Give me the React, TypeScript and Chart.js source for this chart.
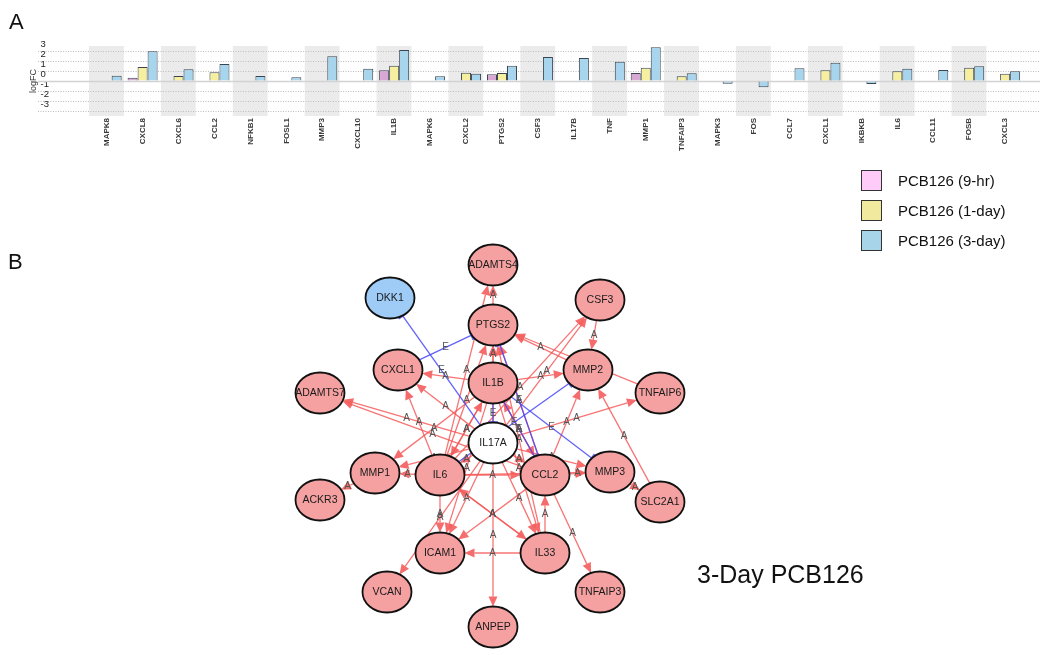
import React, { useEffect, useRef } from 'react';
import { Chart, registerables } from 'chart.js';

Chart.register(...registerables);
Chart.defaults.font.family = '"Liberation Sans", Arial, sans-serif';

// ---------- Panel A data ----------
const categories = ['MAPK8', 'CXCL8', 'CXCL6', 'CCL2', 'NFKB1', 'FOSL1', 'MMP3', 'CXCL10', 'IL1B', 'MAPK6', 'CXCL2', 'PTGS2', 'CSF3', 'IL17B', 'TNF', 'MMP1', 'TNFAIP3', 'MAPK3', 'FOS', 'CCL7', 'CXCL1', 'IKBKB', 'IL6', 'CCL11', 'FOSB', 'CXCL3'];
const seriesLabels = ['PCB126 (9-hr)', 'PCB126 (1-day)', 'PCB126 (3-day)'];
const hr9 = [null, 0.33, null, null, null, null, null, null, 1.07, null, null, 0.67, null, null, null, 0.8, null, null, null, null, null, null, null, null, null, null];
const day1 = [null, 1.4, 0.5, 0.87, null, null, null, null, 1.53, null, 0.83, 0.8, null, null, null, 1.33, 0.47, null, null, null, 1.07, null, 0.97, null, 1.33, 0.73];
const day3 = [0.53, 2.97, 1.17, 1.7, 0.5, 0.37, 2.47, 1.23, 3.1, 0.47, 0.73, 1.53, 2.4, 2.3, 1.93, 3.37, 0.77, -0.27, -0.63, 1.27, 1.83, -0.3, 1.23, 1.1, 1.47, 0.97];
const yTicks = [3, 2, 1, 0, -1, -2, -3];
const barColors = ['#D8A7D4', '#F6EF9F', '#A8D5EE'];
const legendColors = ['#FFCCFA', '#F0E99E', '#A8D4EA'];

// ---------- Panel B data (network layout units, IL17A at origin) ----------
const nodeNames = ['ADAMTS4', 'DKK1', 'CSF3', 'PTGS2', 'CXCL1', 'IL1B', 'MMP2', 'ADAMTS7', 'TNFAIP6', 'IL17A', 'MMP1', 'IL6', 'CCL2', 'MMP3', 'ACKR3', 'SLC2A1', 'ICAM1', 'IL33', 'VCAN', 'TNFAIP3', 'ANPEP'];
const nodeX = [0, -10.3, 10.7, 0, -9.5, 0, 9.5, -17.3, 16.7, 0, -11.8, -5.3, 5.2, 11.7, -17.3, 16.7, -5.3, 5.2, -10.6, 10.7, 0];
const nodeY = [17.8, 14.5, 14.3, 11.8, 7.3, 6.0, 7.3, 5.0, 5.0, 0, -3.0, -3.2, -3.2, -2.9, -5.7, -5.9, -11.0, -11.0, -14.9, -14.9, -18.4];
const downNodes = ['DKK1'];
const queryNodes = ['IL17A'];
const activationEdges: [string, string][] = [
  ['PTGS2', 'ADAMTS4'], ['IL6', 'ADAMTS4'], ['IL1B', 'PTGS2'], ['IL6', 'PTGS2'], ['IL17A', 'PTGS2'], ['CCL2', 'PTGS2'], ['IL33', 'PTGS2'], ['MMP2', 'PTGS2'], ['TNFAIP6', 'PTGS2'],
  ['CSF3', 'MMP2'], ['SLC2A1', 'MMP2'], ['IL1B', 'MMP2'], ['CCL2', 'MMP2'],
  ['IL6', 'CSF3'], ['IL17A', 'CSF3'], ['MMP3', 'SLC2A1'],
  ['IL1B', 'CXCL1'], ['IL6', 'CXCL1'], ['IL17A', 'CXCL1'],
  ['IL17A', 'ADAMTS7'], ['CCL2', 'ADAMTS7'],
  ['IL1B', 'MMP1'], ['IL17A', 'MMP1'], ['IL6', 'MMP1'], ['MMP1', 'ACKR3'],
  ['IL17A', 'IL6'], ['IL1B', 'IL6'], ['IL17A', 'CCL2'], ['IL1B', 'CCL2'], ['IL6', 'CCL2'],
  ['CCL2', 'MMP3'], ['IL17A', 'MMP3'], ['IL6', 'MMP3'], ['IL17A', 'TNFAIP6'],
  ['IL6', 'ICAM1'], ['IL17A', 'ICAM1'], ['IL1B', 'ICAM1'], ['CCL2', 'ICAM1'], ['IL33', 'ICAM1'],
  ['IL33', 'IL6'], ['IL33', 'CCL2'], ['IL17A', 'IL33'], ['IL6', 'IL33'], ['IL1B', 'IL33'],
  ['IL17A', 'ANPEP'], ['CCL2', 'TNFAIP3'], ['IL17A', 'VCAN'], ['IL6', 'IL1B'], ['CCL2', 'IL1B'],
];
const expressionEdges: [string, string][] = [
  ['IL17A', 'DKK1'], ['CXCL1', 'PTGS2'], ['CCL2', 'PTGS2'], ['IL1B', 'IL17A'], ['IL1B', 'MMP3'], ['IL6', 'MMP2'], ['IL1B', 'CCL2'],
];

const bandPlugin = {
  id: 'bands',
  beforeDraw(chart: any) {
    const { ctx, chartArea, scales } = chart;
    ctx.save();
    ctx.fillStyle = '#ebebeb';
    categories.forEach((_, i) => {
      if (i % 2) return;
      const l = scales.x.getPixelForValue(i - 0.49);
      const r = scales.x.getPixelForValue(i + 0.48);
      ctx.fillRect(l, chartArea.top, r - l, chartArea.bottom - chartArea.top);
    });
    ctx.restore();
  },
  beforeDatasetsDraw(chart: any) {
    const { ctx, chartArea, scales } = chart;
    const y0 = Math.round(scales.y.getPixelForValue(0)) + 0.5;
    ctx.save();
    ctx.strokeStyle = '#d2d2d2';
    ctx.lineWidth = 1.5;
    ctx.beginPath();
    ctx.moveTo(chartArea.left, y0);
    ctx.lineTo(chartArea.right, y0);
    ctx.stroke();
    ctx.restore();
  },
};

const RX = 24.5;
const RY = 20.5;

const networkPlugin = {
  id: 'network',
  afterDatasetsDraw(chart: any) {
    const ctx = chart.ctx as CanvasRenderingContext2D;
    const meta = chart.getDatasetMeta(0);
    const pos: Record<string, { x: number; y: number }> = {};
    nodeNames.forEach((n, i) => { pos[n] = { x: meta.data[i].x, y: meta.data[i].y }; });

    const geom = (a: string, b: string) => {
      const p = pos[a], q = pos[b];
      const dx = q.x - p.x, dy = q.y - p.y;
      const len = Math.hypot(dx, dy);
      const ux = dx / len, uy = dy / len;
      const r = 1 / Math.sqrt((ux / RX) ** 2 + (uy / RY) ** 2);
      return { p, q, ux, uy, sx: p.x + ux * r, sy: p.y + uy * r, ex: q.x - ux * r, ey: q.y - uy * r };
    };

    ctx.save();
    activationEdges.forEach(([a, b]) => {
      const g = geom(a, b);
      const hl = 10, hw = 4.5;
      const bx = g.ex - g.ux * hl, by = g.ey - g.uy * hl;
      ctx.strokeStyle = 'rgba(245,85,85,0.82)';
      ctx.lineWidth = 1.3;
      ctx.beginPath();
      ctx.moveTo(g.sx, g.sy);
      ctx.lineTo(bx, by);
      ctx.stroke();
      ctx.fillStyle = 'rgba(245,95,95,0.92)';
      ctx.beginPath();
      ctx.moveTo(g.ex, g.ey);
      ctx.lineTo(bx - g.uy * hw, by + g.ux * hw);
      ctx.lineTo(bx + g.uy * hw, by - g.ux * hw);
      ctx.closePath();
      ctx.fill();
    });
    expressionEdges.forEach(([a, b]) => {
      const g = geom(a, b);
      ctx.strokeStyle = 'rgba(70,70,250,0.85)';
      ctx.lineWidth = 1.3;
      ctx.beginPath();
      ctx.moveTo(g.sx, g.sy);
      ctx.lineTo(g.ex, g.ey);
      ctx.stroke();
      ctx.lineWidth = 2.6;
      ctx.strokeStyle = 'rgba(90,90,250,0.9)';
      ctx.beginPath();
      ctx.moveTo(g.ex - g.uy * 5, g.ey + g.ux * 5);
      ctx.lineTo(g.ex + g.uy * 5, g.ey - g.ux * 5);
      ctx.stroke();
    });
    ctx.font = '10px "Liberation Sans", Arial, sans-serif';
    ctx.textAlign = 'center';
    ctx.textBaseline = 'middle';
    ctx.fillStyle = '#555';
    const label = (list: [string, string][], t: string) => list.forEach(([a, b]) => {
      const p = pos[a], q = pos[b];
      ctx.fillText(t, (p.x + q.x) / 2, (p.y + q.y) / 2);
    });
    label(activationEdges, 'A');
    label(expressionEdges, 'E');
    nodeNames.forEach((n) => {
      const p = pos[n];
      ctx.beginPath();
      ctx.ellipse(p.x, p.y, RX, RY, 0, 0, Math.PI * 2);
      ctx.fillStyle = downNodes.includes(n) ? '#9ECCF7' : queryNodes.includes(n) ? '#ffffff' : '#F5A1A1';
      ctx.fill();
      ctx.lineWidth = 1.8;
      ctx.strokeStyle = '#111';
      ctx.stroke();
      ctx.fillStyle = '#1a1a1a';
      ctx.font = '10.5px "Liberation Sans", Arial, sans-serif';
      ctx.fillText(n, p.x, p.y + 0.5);
    });
    ctx.restore();
  },
};

export default function App() {
  const barRef = useRef<HTMLCanvasElement>(null);
  const netRef = useRef<HTMLCanvasElement>(null);

  useEffect(() => {
    const toPts = (arr: (number | null)[]) => arr.map((v, i) => ({ x: i, y: v }));
    const bar = new Chart(barRef.current!, {
      type: 'bar',
      data: {
        datasets: [hr9, day1, day3].map((d, k) => ({
          label: seriesLabels[k],
          data: toPts(d) as any,
          backgroundColor: barColors[k],
          borderColor: '#3A4550',
          borderWidth: 1,
          barPercentage: 1,
          categoryPercentage: 0.835,
        })),
      },
      options: {
        animation: false,
        responsive: false,
        devicePixelRatio: 1,
        events: [],
        layout: { padding: { left: 26, right: 10, top: 46, bottom: 0 } },
        plugins: { legend: { display: false }, tooltip: { enabled: false } },
        scales: {
          x: {
            type: 'linear',
            offset: false,
            min: -1.91,
            max: 25.97,
            grid: { display: false, drawTicks: false, offset: false },
            border: { display: false },
            afterBuildTicks: (s: any) => { s.ticks = categories.map((_, i) => ({ value: i })); },
            afterFit: (s: any) => { s.height = 64; },
            ticks: {
              autoSkip: false,
              minRotation: 90,
              maxRotation: 90,
              padding: 2,
              color: '#3a3a3a',
              font: { size: 8, weight: 'bold' },
              callback: (v: any) => categories[v] ?? '',
            },
          },
          y: {
            min: -3.5,
            max: 3.5,
            afterBuildTicks: (s: any) => { s.ticks = yTicks.map((v) => ({ value: v })); },
            afterFit: (s: any) => { s.width = 12; },
            grid: { color: '#bdbdbd', lineWidth: 1, drawTicks: false },
            border: { display: false, dash: [1, 1.5] },
            ticks: {
              autoSkip: false,
              mirror: true,
              padding: 2.5,
              labelOffset: -7,
              color: '#222',
              font: { size: 9.5 },
              callback: (v: any) => String(v),
            },
            title: { display: true, text: 'logFC', color: '#333', font: { size: 9 }, padding: { top: 2, bottom: 0 } },
          },
        },
      } as any,
      plugins: [bandPlugin],
    });

    const net = new Chart(netRef.current!, {
      type: 'scatter',
      data: {
        datasets: [{
          data: nodeNames.map((_, i) => ({ x: nodeX[i], y: nodeY[i] })),
          pointRadius: 0,
        }],
      },
      options: {
        animation: false,
        responsive: false,
        devicePixelRatio: 1,
        events: [],
        layout: { padding: 0 },
        plugins: { legend: { display: false }, tooltip: { enabled: false } },
        scales: {
          x: { display: false, min: -49.3, max: 55.7 },
          y: { display: false, min: -21.2, max: 20.3 },
        },
      } as any,
      plugins: [networkPlugin],
    });

    return () => { bar.destroy(); net.destroy(); };
  }, []);

  const font = '"Liberation Sans", Arial, sans-serif';
  return (
    <div style={{ position: 'absolute', left: 0, top: 0, width: 1050, height: 655, background: '#fff', fontFamily: font, overflow: 'hidden' }}>
      <canvas ref={barRef} width={1050} height={180} style={{ position: 'absolute', left: 0, top: 0 }} />
      <canvas ref={netRef} width={1050} height={415} style={{ position: 'absolute', left: 0, top: 240 }} />
      <div style={{ position: 'absolute', left: 9, top: 9, fontSize: 22, lineHeight: 'normal', color: '#111' }}>A</div>
      <div style={{ position: 'absolute', left: 8, top: 249, fontSize: 22, lineHeight: 'normal', color: '#111' }}>B</div>
      <div style={{ position: 'absolute', left: 697, top: 560, fontSize: 25, lineHeight: 'normal', color: '#111' }}>3-Day PCB126</div>
      {seriesLabels.map((s, i) => (
        <div key={s} style={{ position: 'absolute', left: 861, top: 170 + i * 30, height: 21, display: 'flex', alignItems: 'center' }}>
          <div style={{ width: 21, height: 21, boxSizing: 'border-box', background: legendColors[i], border: '1px solid #333' }} />
          <span style={{ marginLeft: 16, fontSize: 15, color: '#111', whiteSpace: 'nowrap' }}>{s}</span>
        </div>
      ))}
    </div>
  );
}
